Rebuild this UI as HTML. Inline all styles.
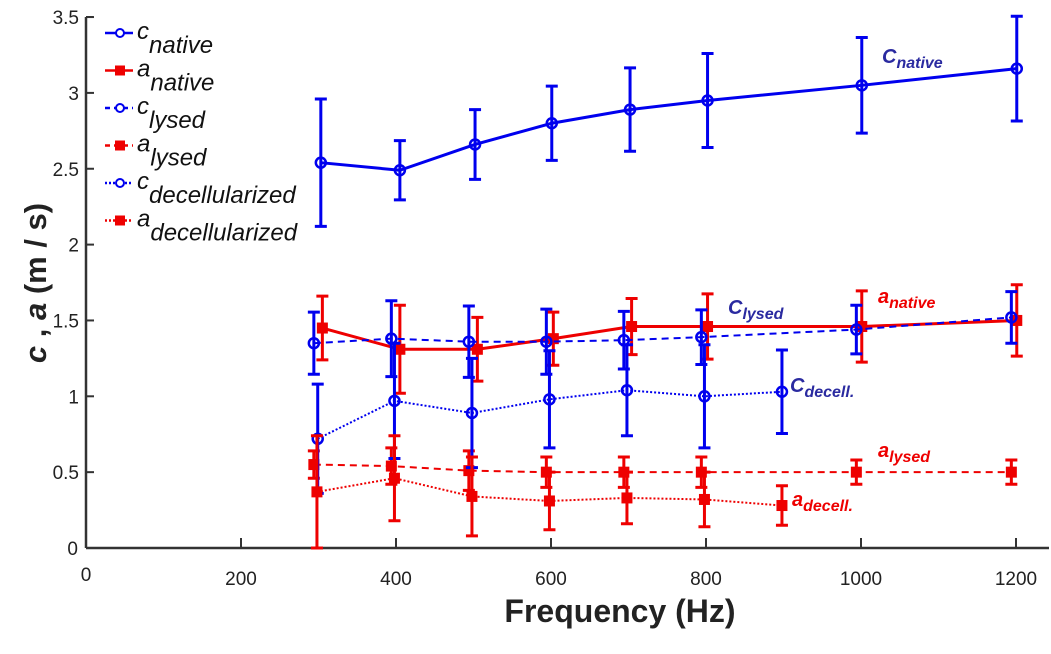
<!DOCTYPE html>
<html><head><meta charset="utf-8"><style>
body{margin:0;background:#fff;font-family:"Liberation Sans",sans-serif}
svg text{font-family:"Liberation Sans",sans-serif}
</style></head><body>
<svg id="chart" width="1051" height="649" viewBox="0 0 1051 649" xmlns="http://www.w3.org/2000/svg"></svg>
<script>
const xTicks=[200,400,600,800,1000,1200];
const yTicks=[0.5,1,1.5,2,2.5,3,3.5];
const yTickLabels=["0.5","1","1.5","2","2.5","3","3.5"];
const cNativeF=[303,405,502,601,702,802,1001,1201];
const cNativeV=[2.54,2.49,2.66,2.80,2.89,2.95,3.05,3.16];
const cNativeE=[0.42,0.195,0.23,0.245,0.275,0.31,0.315,0.345];
const aNativeF=[305,405,505,603,704,802,1001,1201];
const aNativeV=[1.45,1.31,1.31,1.38,1.46,1.46,1.46,1.50];
const aNativeE=[0.21,0.29,0.21,0.175,0.185,0.215,0.235,0.235];
const cLysedF=[294,394,494,594,694,794,994,1194];
const cLysedV=[1.35,1.38,1.36,1.36,1.37,1.39,1.44,1.52];
const cLysedE=[0.205,0.25,0.235,0.215,0.19,0.18,0.16,0.17];
const cDecF=[299,398,498,598,698,798,898];
const cDecV=[0.72,0.97,0.89,0.98,1.04,1.00,1.03];
const cDecE=[0.36,0.38,0.36,0.32,0.30,0.34,0.275];
const aLysF=[294,394,494,594,694,794,994,1194];
const aLysV=[0.55,0.54,0.51,0.50,0.50,0.50,0.50,0.50];
const aLysE=[0.09,0.12,0.13,0.10,0.10,0.10,0.08,0.08];
const aDecF=[298,398,498,598,698,798,898];
const aDecV=[0.37,0.46,0.34,0.31,0.33,0.32,0.28];
const aDecE=[0.37,0.28,0.26,0.19,0.17,0.18,0.13];
const X=f=>86+f*0.775, Y=v=>548-v*151.7;
const svg=document.getElementById('chart');const NS='http://www.w3.org/2000/svg';
function el(t,a,txt){const e=document.createElementNS(NS,t);for(const k in a)e.setAttribute(k,a[k]);if(txt!=null)e.textContent=txt;svg.appendChild(e);return e;}
const BLUE='#0000ee',RED='#ee0000';
let ax=el('line',{x1:86,y1:548,x2:1049,y2:548,stroke:'#333','stroke-width':2.5});

ax=el('line',{x1:86,y1:17,x2:86,y2:548,stroke:'#333','stroke-width':2.5});

el('line',{x1:86,y1:17,x2:93,y2:17,stroke:'#333','stroke-width':2});
xTicks.forEach(t=>{
 const l=el('line',{x1:X(t),y1:548,x2:X(t),y2:538,stroke:'#333','stroke-width':2});
 
 const tx=el('text',{x:X(t),y:585,'font-size':19,fill:'#222','text-anchor':'middle'},String(t));
 
});
let z=el('text',{x:86,y:581,'font-size':19,fill:'#222','text-anchor':'middle'},'0');

z=el('text',{x:78,y:555,'font-size':19,fill:'#222','text-anchor':'end'},'0');

yTicks.forEach((t,i)=>{
 const l=el('line',{x1:86,y1:Y(t),x2:94,y2:Y(t),stroke:'#333','stroke-width':2});
 
 const tx=el('text',{x:79,y:Y(t)+7,'font-size':19,fill:'#222','text-anchor':'end'},yTickLabels[i]);
 
});
const xl=el('text',{x:620,y:622,'font-size':32,'font-weight':'bold',fill:'#222','text-anchor':'middle'},'Frequency (Hz)');

const yl=el('text',{x:0,y:0,'font-size':31,'font-weight':'bold',fill:'#222','text-anchor':'middle',transform:'translate(46,283) rotate(-90)'});
yl.innerHTML='<tspan font-style="italic">c</tspan> , <tspan font-style="italic">a</tspan> (m / s)';

function series(name,F,V,E,color,dash,marker){
 const g=document.createElementNS(NS,'g');svg.appendChild(g);
 
 const pts=F.map((f,i)=>X(f)+','+Y(V[i])).join(' ');
 const pl=document.createElementNS(NS,'polyline');
 pl.setAttribute('points',pts);pl.setAttribute('fill','none');pl.setAttribute('stroke',color);pl.setAttribute('stroke-width',dash==='none'?3:2);
 if(dash!=='none')pl.setAttribute('stroke-dasharray',dash);
 g.appendChild(pl);
 F.forEach((f,i)=>{
  const x=X(f),yt=Y(V[i]+E[i]),yb=Y(Math.max(0,V[i]-E[i]));
  const p=document.createElementNS(NS,'path');
  p.setAttribute('d',`M${x},${yt}V${yb}M${x-6},${yt}H${x+6}M${x-6},${yb}H${x+6}`);
  p.setAttribute('stroke',color);p.setAttribute('stroke-width',3);p.setAttribute('fill','none');
  
  g.appendChild(p);
  let m;
  if(marker==='o'){m=document.createElementNS(NS,'circle');m.setAttribute('cx',x);m.setAttribute('cy',Y(V[i]));m.setAttribute('r',5);m.setAttribute('fill','none');m.setAttribute('stroke',color);m.setAttribute('stroke-width',2.5);}
  else{m=document.createElementNS(NS,'rect');m.setAttribute('x',x-5.5);m.setAttribute('y',Y(V[i])-5.5);m.setAttribute('width',11);m.setAttribute('height',11);m.setAttribute('fill',color);}
  
  g.appendChild(m);
 });
}
series('c-native',cNativeF,cNativeV,cNativeE,BLUE,'none','o');
series('a-native',aNativeF,aNativeV,aNativeE,RED,'none','s');
series('c-lysed',cLysedF,cLysedV,cLysedE,BLUE,'7,5','o');
series('a-lysed',aLysF,aLysV,aLysE,RED,'7,5','s');
series('c-decellularized',cDecF,cDecV,cDecE,BLUE,'2,2','o');
series('a-decellularized',aDecF,aDecV,aDecE,RED,'2,2','s');
const leg=[['c','native',BLUE,'none','o'],['a','native',RED,'none','s'],['c','lysed',BLUE,'5,4','o'],['a','lysed',RED,'5,4','s'],['c','decellularized',BLUE,'2,2','o'],['a','decellularized',RED,'2,2','s']];
leg.forEach((d,i)=>{
 const y=33+i*37.5;
 const g=document.createElementNS(NS,'g');svg.appendChild(g);
 
 const l=document.createElementNS(NS,'line');l.setAttribute('x1',105);l.setAttribute('x2',133);l.setAttribute('y1',y);l.setAttribute('y2',y);l.setAttribute('stroke',d[2]);l.setAttribute('stroke-width',2.5);if(d[3]!=='none')l.setAttribute('stroke-dasharray',d[3]);g.appendChild(l);
 let m;
 if(d[4]==='o'){m=document.createElementNS(NS,'circle');m.setAttribute('cx',120);m.setAttribute('cy',y);m.setAttribute('r',4);m.setAttribute('fill','#fff');m.setAttribute('stroke',d[2]);m.setAttribute('stroke-width',2);}
 else{m=document.createElementNS(NS,'rect');m.setAttribute('x',115);m.setAttribute('y',y-5);m.setAttribute('width',10);m.setAttribute('height',10);m.setAttribute('fill',d[2]);}
 g.appendChild(m);
 const t=document.createElementNS(NS,'text');t.setAttribute('x',137);t.setAttribute('y',y+6);t.setAttribute('font-size',24);t.setAttribute('font-style','italic');t.setAttribute('fill','#111');
 t.innerHTML=d[0]+'<tspan dy="14">'+d[1]+'</tspan>';g.appendChild(t);
});
function ann(x,y,main,sub,color,name){
 const t=el('text',{x:x,y:y,'font-size':20,'font-weight':'bold','font-style':'italic',fill:color});
 t.innerHTML=main+'<tspan dy="5" font-size="16">'+sub+'</tspan>';
 
}
ann(882,63,'C','native','#2a2aa0','label-c-native');
ann(728,314,'C','lysed','#2a2aa0','label-c-lysed');
ann(790,392,'C','decell.','#2a2aa0','label-c-decell');
ann(878,303,'a','native',RED,'label-a-native');
ann(878,457,'a','lysed',RED,'label-a-lysed');
ann(792,506,'a','decell.',RED,'label-a-decell');
</script>
</body></html>
